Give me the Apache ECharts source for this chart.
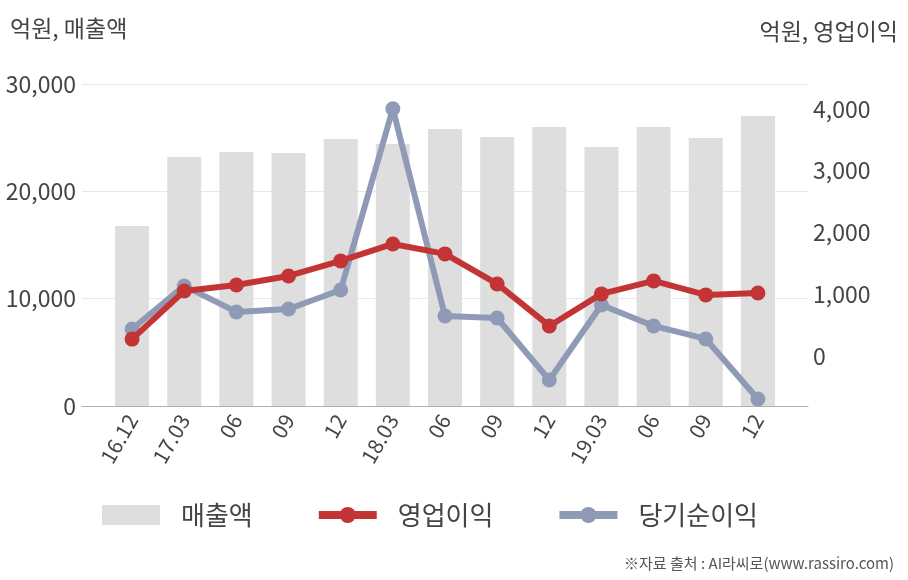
<!DOCTYPE html>
<html><head><meta charset="utf-8">
<script src="https://cdn.jsdelivr.net/npm/echarts@6/dist/echarts.min.js"></script>
<style>html,body{margin:0;padding:0;background:#fff}#c{width:908px;height:580px}</style>
</head><body><div id="c"></div>
<script>
const categories = ['16.12','17.03','06','09','12','18.03','06','09','12','19.03','06','09','12'];
const sales = [16770, 23200, 23660, 23570, 24880, 24410, 25810, 25060, 25990, 24130, 25990, 24970, 27020];
const operatingProfit = [280, 1058, 1155, 1300, 1543, 1817, 1656, 1171, 493, 1010, 1220, 994, 1026];
const netIncome = [444, 1139, 719, 767, 1074, 4000, 654, 622, -380, 832, 493, 283, -687];
const leftTicks = [0, 10000, 20000, 30000];
const rightTicks = [0, 1000, 2000, 3000, 4000];

const FONT = '"Noto Sans CJK KR", "Noto Sans", sans-serif';
const fmt = v => v.toLocaleString('en-US');
const chart = echarts.init(document.getElementById('c'));
chart.setOption({
  animation: false,
  textStyle: { fontFamily: FONT },
  grid: [
    { left: 82, right: 100, top: 84, bottom: 174 },
    { left: 106, right: 124, top: 84, bottom: 174 }
  ],
  xAxis: [
    { type: 'value', gridIndex: 0, min: 0, max: 1, axisLine: { show: true, lineStyle: { color: '#b0b0b0', width: 1 } },
      axisTick: { show: false }, axisLabel: { show: false }, splitLine: { show: false } },
    { type: 'category', gridIndex: 1, data: categories, axisLine: { show: false }, axisTick: { show: false },
      axisLabel: { rotate: 60, fontSize: 21, color: '#444', margin: 10, fontFamily: FONT, interval: 0 } }
  ],
  yAxis: [
    { type: 'value', gridIndex: 1, min: leftTicks[0], max: leftTicks[leftTicks.length-1], interval: 10000, position: 'left',
      axisLine: { show: false }, axisTick: { show: false }, splitLine: { show: false },
      axisLabel: { fontSize: 23, color: '#444', margin: 30, fontFamily: FONT, formatter: v => fmt(v) } },
    { type: 'value', gridIndex: 1, min: -800, max: 4400, interval: 200, position: 'right',
      axisLine: { show: false }, axisTick: { show: false }, splitLine: { show: false },
      axisLabel: { fontSize: 23, color: '#444', margin: 29, fontFamily: FONT,
        formatter: v => rightTicks.indexOf(v) >= 0 ? fmt(v) : '' } },
    { type: 'value', gridIndex: 0, min: 0, max: 30000, interval: 10000,
      axisLine: { show: false }, axisTick: { show: false }, axisLabel: { show: false },
      splitLine: { show: true, lineStyle: { color: '#e8e8e8', width: 1 } } }
  ],
  legend: {
    left: 97, top: 497, itemGap: 62, itemWidth: 58, itemHeight: 20,
    textStyle: { fontSize: 26, color: '#444', fontFamily: FONT, padding: [0, 0, 0, 16] },
    data: [
      { name: '매출액', icon: 'rect' },
      { name: '영업이익', lineStyle: { width: 8 }, itemStyle: { borderWidth: 0 } },
      { name: '당기순이익', lineStyle: { width: 8 }, itemStyle: { borderWidth: 0 } }
    ]
  },
  graphic: [
    { type: 'text', left: 10, top: 17, style: { text: '억원, 매출액', fill: '#444', font: '23px ' + FONT } },
    { type: 'text', right: 10, top: 20, style: { text: '억원, 영업이익', fill: '#444', font: '23px ' + FONT } },
    { type: 'text', right: 14, top: 556, style: { text: '※자료 출처 : AI라씨로(www.rassiro.com)', fill: '#555', font: '15px ' + FONT } }
  ],
  series: [
    { name: '매출액', type: 'bar', xAxisIndex: 1, yAxisIndex: 0, data: sales, barWidth: 34,
      itemStyle: { color: '#dedede' } },
    { name: '당기순이익', type: 'line', xAxisIndex: 1, yAxisIndex: 1, data: netIncome,
      symbol: 'circle', symbolSize: 15, lineStyle: { color: '#8f9bb6', width: 6 }, itemStyle: { color: '#8f9bb6' } },
    { name: '영업이익', type: 'line', xAxisIndex: 1, yAxisIndex: 1, data: operatingProfit,
      symbol: 'circle', symbolSize: 15, lineStyle: { color: '#c33535', width: 6 }, itemStyle: { color: '#c33535' }, z: 4 }
  ]
});
</script></body></html>
